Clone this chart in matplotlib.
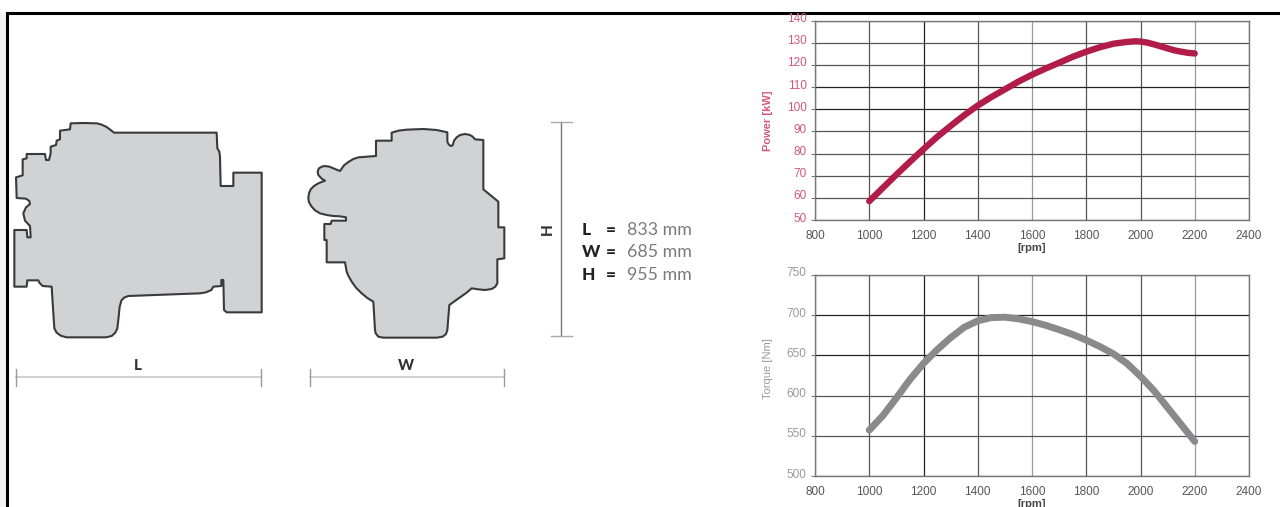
import matplotlib
matplotlib.use("Agg")
import matplotlib.pyplot as plt
import matplotlib.transforms as mtrans
import numpy as np
from matplotlib.patches import Polygon, Rectangle

# Curves
rpm = [1000, 1050, 1100, 1150, 1200, 1250, 1300, 1350, 1400, 1450, 1500, 1550, 1600, 1650, 1700, 1750, 1800, 1850, 1900, 1950, 1980, 2000, 2025, 2050, 2075, 2100, 2125, 2150, 2175, 2200]
power = [58.5, 64.5, 70.5, 76.3, 82, 87.5, 92.5, 97.3, 101.7, 105.5, 109, 112.5, 115.6, 118.4, 121, 123.7, 126, 128, 129.6, 130.4, 130.7, 130.6, 130.1, 129.3, 128.4, 127.5, 126.6, 126, 125.5, 125.2]
torque_rpm = [1000, 1050, 1100, 1150, 1200, 1250, 1300, 1350, 1400, 1450, 1500, 1550, 1600, 1650, 1700, 1750, 1800, 1850, 1900, 1950, 2000, 2050, 2100, 2150, 2200]
torque = [557, 575, 597, 620, 640, 657, 672, 685, 693, 697, 697.5, 695.5, 692, 687.5, 682, 676, 669, 661, 652, 640, 624, 606, 585, 564, 543]

x_ticks = [800, 1000, 1200, 1400, 1600, 1800, 2000, 2200, 2400]
power_ticks = [50, 60, 70, 80, 90, 100, 110, 120, 130, 140]
torque_ticks = [500, 550, 600, 650, 700, 750]

dim_labels = ["L", "W", "H"]
dim_values = ["833 mm", "685 mm", "955 mm"]

# Engine outlines (pixels)
side_pts = [(212, 70), (250, 69), (290, 70), (305, 74), (320, 81), (332, 90), (342, 98), (650, 98), (652, 145), (658, 155),
            (660, 170), (662, 258), (700, 258), (700, 218), (785, 218), (785, 637), (680, 637), (672, 630), (670, 540), (664, 540),
            (664, 558), (640, 560), (634, 570), (618, 577), (600, 580), (385, 588), (372, 593), (364, 602), (359, 620), (356, 650),
            (352, 685), (346, 698), (335, 708), (318, 712), (200, 712), (182, 707), (170, 698), (163, 685), (160, 640), (155, 560),
            (128, 558), (118, 548), (115, 541), (82, 541), (80, 560), (43, 560), (43, 390), (80, 390), (82, 412), (92, 412),
            (90, 378), (75, 362), (70, 340), (78, 322), (90, 312), (88, 303), (78, 296), (50, 294), (48, 232), (68, 226),
            (68, 178), (80, 175), (80, 162), (135, 162), (138, 180), (147, 180), (152, 160), (152, 140), (168, 135), (170, 122),
            (180, 118), (180, 92), (210, 88)]
front_pts = [(305, 98), (325, 92), (350, 89), (400, 87), (440, 90), (472, 97), (472, 125), (476, 133), (482, 138), (488, 136),
             (492, 122), (500, 112), (510, 105), (525, 102), (540, 105), (548, 110), (555, 118), (580, 120), (580, 268), (625, 305),
             (625, 382), (643, 382), (643, 475), (622, 478), (622, 550), (616, 560), (605, 567), (585, 570), (565, 568), (545, 565),
             (530, 578), (510, 592), (478, 615), (472, 690), (468, 702), (458, 710), (440, 713), (280, 713), (265, 710), (257, 700),
             (255, 690), (250, 605), (232, 594), (215, 580), (198, 563), (185, 545), (175, 527), (170, 515), (165, 487), (110, 487),
             (110, 420), (103, 420), (103, 372), (122, 372), (125, 362), (168, 362), (168, 352), (150, 349), (130, 348), (110, 345),
             (90, 340), (75, 331), (65, 320), (57, 307), (55, 295), (57, 280), (62, 268), (72, 258), (85, 250), (105, 242),
             (95, 236), (85, 225), (83, 214), (87, 205), (95, 200), (105, 198), (118, 200), (130, 205), (150, 213), (162, 196),
             (175, 186), (190, 177), (205, 172), (258, 168), (258, 122), (305, 122)]

side_xy = np.array(side_pts) / 3 + [0, 100]
front_xy = np.array(front_pts) / 3 + [290, 100]

W, H = 1280, 507
plt.rcParams['font.family'] = ['Liberation Sans', 'DejaVu Sans']
fig = plt.figure(figsize=(W / 100, H / 100), dpi=100, facecolor='white')


def px_axes(left, top, right, bottom):
    return fig.add_axes([left / W, 1 - bottom / H, (right - left) / W, (bottom - top) / H])


# Overlay in pixel coordinates for the drawing on the left
bg = fig.add_axes([0, 0, 1, 1])
bg.set_xlim(0, W)
bg.set_ylim(H, 0)
bg.axis('off')

bg.add_patch(Rectangle((0, 13), 7, H, fc='#f4f4f4', ec='none'))
bg.plot([7, 7, W], [H, 13, 13], color='black', lw=2.2, solid_joinstyle='miter')

for xy in [side_xy, front_xy]:
    bg.add_patch(Polygon(xy, closed=True, fc='#d1d2d4', ec='#3a3a3c', lw=1.5, joinstyle='round'))

label_font = ['Lato', 'DejaVu Sans']

# dimension bars
for x0, x1, lab in [(15.5, 261, 'L'), (309.5, 503.5, 'W')]:
    bg.plot([x0, x1], [377, 377], color='#c8c8c8', lw=1.2)
    bg.plot([x0, x0], [369, 386], color='#999999', lw=1)
    bg.plot([x1, x1], [369, 386], color='#999999', lw=1)
    bg.text((x0 + x1) / 2 - 0.5, 366, lab, ha='center', va='center', fontsize=11, fontweight='black',
            family=label_font, color='#333333')

bg.plot([561, 561], [122, 336], color='#777777', lw=1)
bg.plot([551, 572], [122, 122], color='#aaaaaa', lw=1)
bg.plot([551, 572], [336, 336], color='#aaaaaa', lw=1)
bg.text(548, 229, 'H', rotation=90, ha='center', va='center', fontsize=11, fontweight='black',
        family=label_font, color='#333333')

for lab, val, y in zip(dim_labels, dim_values, [230, 252, 275]):
    bg.text(582, y, lab, ha='left', va='center', fontsize=12.5, fontweight='black', family=label_font, color='#222222')
    bg.text(606, y, '=', ha='left', va='center', fontsize=12.5, fontweight='black', family=label_font, color='#222222')
    bg.text(627, y, val, ha='left', va='center', fontsize=12.8, fontweight='normal', family=label_font, color='#7a7a7a')

# y tick labels sit a little above their grid lines in the original
label_shift = mtrans.ScaledTranslation(0, 3 / 100, fig.dpi_scale_trans)


def engine_plot(ax, xs, ys, yticks, color, label_color, ylabel, ylabel_y, line_w, grid_x, grid_y):
    ax.set_xlim(800, 2400)
    ax.set_ylim(yticks[0], yticks[-1])
    ax.set_xticks(x_ticks)
    ax.set_yticks(yticks)
    ax.grid(True, lw=0.9)
    ax.set_axisbelow(True)
    for line, c in zip(ax.get_xgridlines(), grid_x):
        line.set_color(c)
    for line, c in zip(ax.get_ygridlines(), grid_y):
        line.set_color(c)
    for s in ax.spines.values():
        s.set_color('#777777')
        s.set_linewidth(1)
    ax.tick_params(axis='x', length=0, labelsize=8.5, labelcolor='#555555', pad=7)
    ax.tick_params(axis='y', length=3, width=0.8, color='#777777', labelsize=8.5, labelcolor=label_color, pad=3)
    for t in ax.get_yticklabels():
        t.set_transform(t.get_transform() + label_shift)
    ax.plot(xs, ys, color=color, lw=line_w, solid_capstyle='round', solid_joinstyle='round')
    ax.set_xlabel('[rpm]', fontsize=8, fontweight='bold', color='#444444', labelpad=1)
    ax.set_ylabel(ylabel, fontsize=8, color=label_color, labelpad=10, y=ylabel_y)
    ax.patch.set_alpha(0)


dark = '#222222'
mid = '#555555'
light = '#999999'

ax1 = px_axes(815, 20.7, 1249, 220)
engine_plot(ax1, rpm, power, power_ticks, '#b11c49', '#d2587c', 'Power [kW]', 0.5, 4.6,
            [mid, mid, dark, mid, light, mid, mid, light, mid],
            [mid, mid, mid, mid, mid, dark, dark, mid, mid, mid])
ax1.yaxis.label.set_fontweight('bold')

ax2 = px_axes(815, 275, 1249, 476)
engine_plot(ax2, torque_rpm, torque, torque_ticks, '#8a8a8c', '#9a9a9a', 'Torque [Nm]', 0.537, 5,
            [mid, mid, dark, mid, light, mid, mid, light, mid],
            [mid, mid, mid, dark, dark, mid])

fig.savefig('out.png', dpi=100)
